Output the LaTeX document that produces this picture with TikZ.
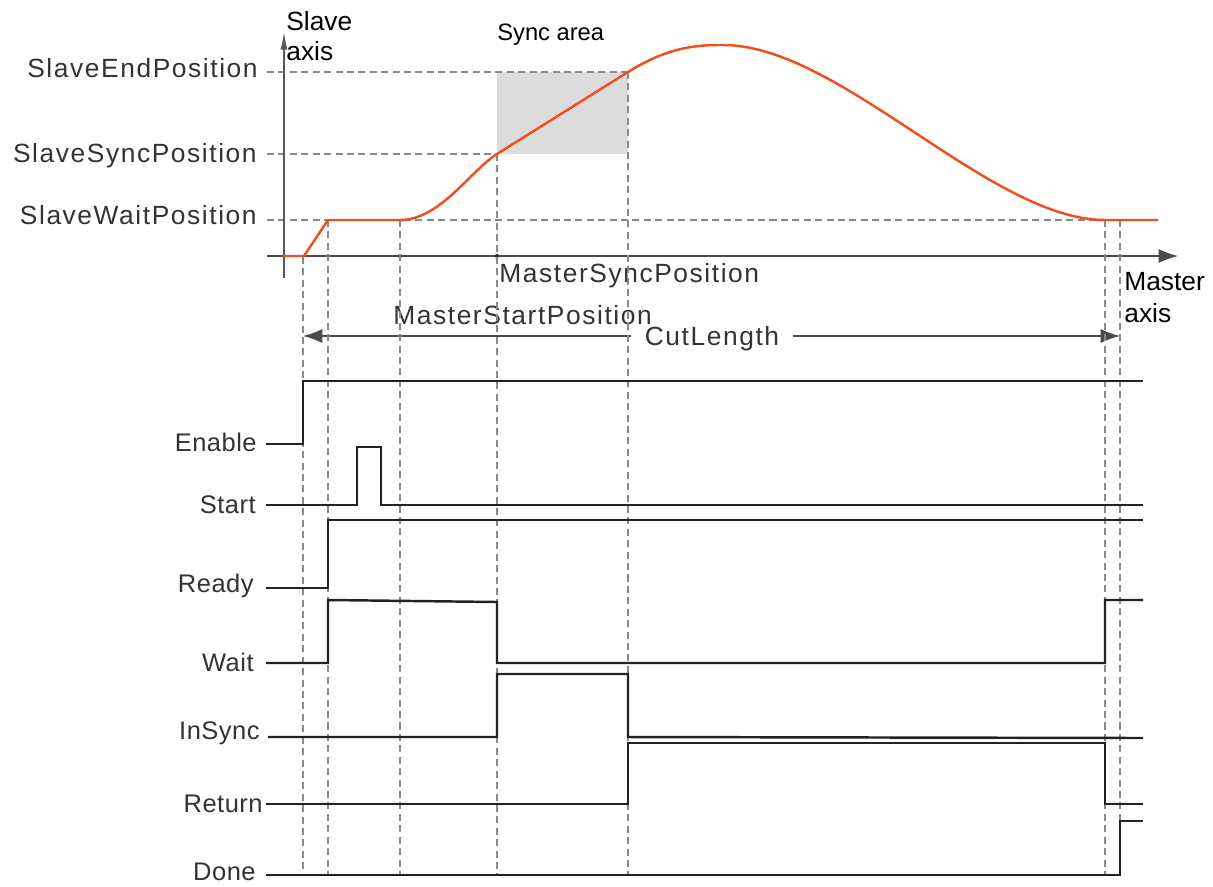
\documentclass[tikz,border=0pt]{standalone}
\usepackage{fontspec}
\setmainfont{Liberation Sans}
\usetikzlibrary{arrows.meta}

\definecolor{labelgray}{HTML}{333333}
\definecolor{guidegray}{HTML}{8A8A8A}
\definecolor{syncgray}{HTML}{DCDCDC}
\definecolor{curveorange}{HTML}{F04E1E}
\definecolor{sigblack}{HTML}{222222}

\begin{document}
\begin{tikzpicture}[
  x=0.02cm, y=-0.02cm,
  poslabel/.style={anchor=base east, inner sep=0, text=labelgray, font=\fontsize{15}{17}\selectfont\addfontfeatures{LetterSpace=6}},
  siglabel/.style={anchor=base east, inner sep=0, text=labelgray, font=\fontsize{14.5}{17}\selectfont\addfontfeatures{LetterSpace=2}},
  axislabel/.style={anchor=base west, inner sep=0, font=\fontsize{15}{17}\selectfont},
  axis/.style={draw=black!65, line width=0.7pt},
  guide/.style={draw=guidegray, line width=0.8pt, dash pattern=on 4pt off 2.5pt},
  sig/.style={draw=sigblack, line width=1.4pt},
  curve/.style={draw=curveorange, line width=1.4pt, line join=round},
  arr/.style={-{Latex[length=11pt, width=8pt]}, draw=black!70, line width=0.7pt}
]
\useasboundingbox (0,0) rectangle (1213,886);

% sync area
\fill[syncgray] (497,72) rectangle (628,154);
\node[axislabel, font=\fontsize{13.5}{16}\selectfont] (syncarea) at (497,40) {Sync area};

% slave positions
\node[poslabel] (endpos) at (258,77) {SlaveEndPosition};
\node[poslabel] (syncpos) at (257,162) {SlaveSyncPosition};
\node[poslabel] (waitpos) at (257,224) {SlaveWaitPosition};
\draw[guide] (267,72) -- (628,72);
\draw[guide] (267,154) -- (497,154);
\draw[guide] (267,220) -- (1120,220);

% axes
\coordinate (ybot) at (284,278);
\coordinate (ytop) at (284,32);
\coordinate (xleft) at (267,256);
\coordinate (xright) at (1178,256);
\draw[axis, -{Latex[length=10pt, width=4pt]}] (ybot) -- (ytop);
\draw[arr] (xleft) -- (xright);
\node[axislabel] (slave1) at (286,30) {Slave};
\node[axislabel] (slave2) at (286,60) {axis};
\node[axislabel] (master1) at (1124,290) {Master};
\node[axislabel] (master2) at (1124,322) {axis};
\fill[black!80] (400,256) circle (1.2pt) (497,256) circle (1.2pt);

% master positions
\node[poslabel, anchor=base west] (msync) at (499,282) {MasterSyncPosition};
\node[poslabel, anchor=base west] (mstart) at (393,324) {MasterStartPosition};

% cut length
\node[poslabel, anchor=base, inner xsep=7.5pt] (cutlen) at (712,345) {CutLength};
\coordinate (cutstart) at (303,336);
\coordinate (cutend) at (1120,336);
\draw[arr] (cutlen.west |- cutstart) -- (cutstart);
\draw[arr] (cutlen.east |- cutend) -- (cutend);

% guide lines
\foreach \gx/\gy in {303/257, 328/220, 400/220, 497/154, 628/72, 1105/220, 1120/220}
  \draw[guide] (\gx,\gy) -- (\gx,875);

% slave profile
\draw[curve] (283,256) -- (304,256) -- (328,220) -- (400,220)
  .. controls (440,220) and (470,171) .. (497,154) -- (628,72)
  .. controls (670,45.7) and (700,45) .. (723,45)
  .. controls (840,45) and (990,220) .. (1105,220) -- (1158,220);

% signals
\foreach \name/\by/\rx in {Enable/451/257, Start/513/256, Ready/592/254, Wait/671/254, InSync/739/260, Return/812/263, Done/880/256}
  \node[siglabel] (lbl\name) at (\rx,\by) {\name};

\draw[sig] (266,444) -| (303,381) -- (1143,381);
\draw[sig] (266,505) -| (357,447) -| (381,505) -- (1143,505);
\draw[sig] (266,588) -| (328,520) -- (1143,520);
\draw[sig] (266,663) -| (328,600) -- (497,602) -- (497,663) -- (1105,663) -- (1105,600) -- (1143,600);
\draw[sig] (268,737) -| (497,674) -| (628,737) -- (1143,738);
\draw[sig] (266,804) -| (628,743) -| (1105,804) -- (1143,804);
\draw[sig] (266,875) -| (1120,821) -- (1143,821);
\end{tikzpicture}
\end{document}
